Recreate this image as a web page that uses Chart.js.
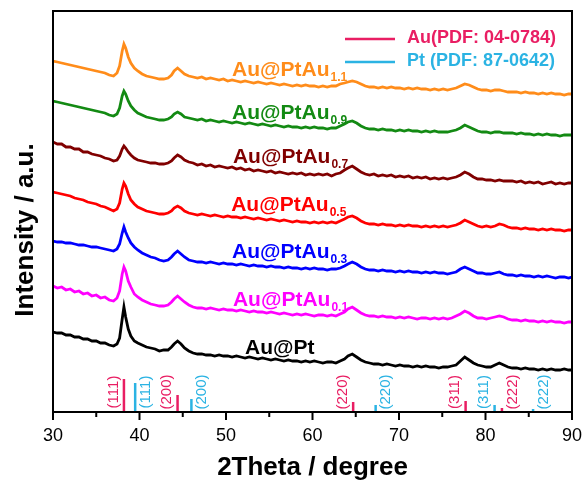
<!DOCTYPE html>
<html>
<head>
<meta charset="utf-8">
<script src="https://cdn.jsdelivr.net/npm/chart.js@4.4.0/dist/chart.umd.min.js"></script>
<style>
html, body { margin: 0; padding: 0; background: #fff; }
</style>
</head>
<body>
<canvas id="mycanvas" width="587" height="481"></canvas>
<script>
// 2Theta values (degrees), shared by all patterns
var twoTheta = [
  30,30.5,31,31.5,32,32.5,33,33.5,34,34.5,35,35.5,36,36.5,37,
  37.4,37.7,38,38.2,38.4,38.7,39,39.4,39.8,
  40.3,40.8,41.3,41.8,42.3,42.8,43.3,43.7,44,44.4,44.8,45.2,45.7,
  46.2,46.7,47.2,47.7,48.2,48.7,49.2,49.7,50.2,50.7,
  51.2,51.7,52.2,52.7,53.2,53.7,54.2,54.7,55.2,55.7,
  56.2,56.7,57.2,57.7,58.2,58.7,59.2,59.7,60.2,60.7,
  61.2,61.7,62.2,62.7,63.2,63.7,
  64.1,64.6,65.1,
  65.6,66.1,66.6,67.1,67.6,68.1,68.6,69.1,69.6,70.1,
  70.6,71.1,71.6,72.1,72.6,73.1,73.6,74.1,74.6,75.1,
  75.6,76.1,76.6,
  77.1,77.6,78.1,
  78.6,79.1,79.6,80.1,80.6,81.1,81.6,82.1,82.6,
  83.1,83.6,84.1,84.6,85.1,85.6,86.1,86.6,87.1,87.6,88.1,88.6,89.1,89.6,90
];

// stacked intensities (offset, a.u.)
var auPt = [
  80,79,79,77,77,75,75,73,73,71,71,69,69,67,66,
  68,74,93,105,95,83,76,71,69,
  67,65,64,63,61,62,62,65,68,71,68,64,61,
  59,58,58,57,57,56,57,56,56,55,56,55,54,55,54,53,54,53,52,53,52,51,52,51,51,50,51,50,51,50,49,50,50,49,51,53,
  56,58,55,
  52,50,49,48,48,47,48,47,46,47,46,46,45,46,45,46,45,45,44,45,45,46,47,
  51,55,52,
  49,47,46,45,45,47,49,47,45,
  44,44,43,44,43,43,42,43,42,43,42,42,43,42,42
];
var ptAu01 = [
  126,124,125,122,123,120,121,118,119,116,117,114,115,112,111,
  114,121,138,145,141,131,125,118,115,
  112,110,108,107,106,106,107,110,113,116,113,110,107,
  105,104,104,103,104,103,102,103,102,102,101,102,101,100,101,100,100,99,100,99,98,99,98,97,98,97,98,97,96,97,97,96,97,96,98,100,
  103,105,102,
  99,97,96,96,95,96,95,95,94,95,94,95,94,93,94,94,93,94,93,94,93,94,96,
  98,101,99,
  96,94,94,93,94,95,96,95,93,
  92,92,91,92,91,91,90,91,90,91,90,90,89,90,90
];
var ptAu03 = [
  171,170,170,169,169,168,167,167,166,165,165,164,163,162,161,
  163,168,179,185,180,174,169,165,162,
  159,157,155,154,152,151,152,155,158,161,158,155,152,
  151,150,150,149,150,149,148,149,148,148,147,148,147,146,147,146,146,145,146,145,145,144,145,144,144,143,144,143,144,143,143,142,143,143,144,146,
  148,150,148,
  145,143,142,142,141,142,141,141,140,141,140,141,140,140,139,140,139,140,139,139,138,139,140,
  143,145,143,
  141,139,139,138,138,139,140,138,137,
  137,136,137,136,136,135,136,135,136,135,134,135,135,134,135
];
var ptAu05 = [
  220,219,218,217,216,214,213,212,210,209,208,206,205,203,201,
  203,209,223,229,226,218,212,208,205,
  203,201,200,199,198,198,199,201,204,206,204,201,199,
  198,197,198,197,196,197,196,195,196,195,195,194,195,194,193,194,193,192,193,192,191,192,191,190,191,190,190,189,190,189,190,189,190,189,191,193,
  195,196,194,
  191,189,188,188,187,188,187,187,186,187,186,187,186,186,185,186,185,186,185,186,185,186,187,
  189,192,190,
  188,186,185,186,185,186,188,187,185,
  184,184,183,184,183,183,182,183,182,183,182,182,181,182,182
];
var ptAu07 = [
  270,268,268,265,265,263,263,260,260,258,257,256,254,253,251,
  252,256,263,266,264,260,257,254,252,
  251,250,249,249,248,248,249,251,254,257,255,252,250,
  249,247,248,246,247,245,246,245,244,245,243,244,242,243,241,242,241,240,241,239,240,239,238,239,238,239,237,238,237,238,237,238,236,238,239,242,
  244,246,243,
  240,238,237,238,236,237,236,237,235,236,235,236,234,235,234,235,233,234,233,234,233,234,235,
  237,240,238,
  235,233,233,232,232,231,232,231,231,
  231,230,231,229,230,229,230,228,229,230,228,229,228,229,229
];
var ptAu09 = [
  311,310,309,308,307,306,305,304,303,302,301,300,299,297,296,
  298,304,316,321,318,311,306,302,299,
  297,295,294,293,292,292,293,295,298,300,298,295,294,
  293,292,293,291,292,291,290,291,290,289,290,289,288,289,288,287,288,287,286,287,286,285,286,285,285,284,285,284,285,284,284,283,284,284,286,288,
  290,291,289,
  286,284,283,283,282,283,282,282,281,282,281,282,281,281,280,281,280,281,280,280,280,281,282,
  284,287,285,
  283,281,280,280,279,280,280,279,279,
  279,278,279,278,278,277,278,277,278,277,277,276,277,277,277
];
var ptAu11 = [
  351,350,349,348,347,346,345,344,343,342,341,340,339,337,336,
  339,346,361,368,364,355,349,344,341,
  338,336,335,334,333,333,334,337,341,344,341,338,336,
  335,334,335,333,334,333,332,333,331,332,331,330,331,330,329,330,329,328,329,328,327,328,327,326,327,326,327,326,326,325,326,325,326,326,328,329,
  330,331,330,
  328,326,325,325,324,325,324,325,324,324,323,324,323,324,323,323,322,323,322,323,322,323,324,
  326,328,327,
  325,323,322,322,321,322,322,321,320,
  320,320,319,320,319,319,318,319,318,319,318,318,317,318,318
];

var sampleNames = ['Au@PtAu', 'Au@PtAu', 'Au@PtAu', 'Au@PtAu', 'Au@PtAu', 'Au@PtAu', 'Au@Pt'];
var sampleSubs = ['1.1', '0.9', '0.7', '0.5', '0.3', '0.1', ''];
var sampleColors = ['#ff8c1a', '#138a13', '#800000', '#ff0000', '#0000ff', '#ff00ff', '#000000'];
var sampleLabelX = [50.7, 50.7, 50.8, 50.6, 50.7, 50.8, 52.2];
var sampleLabelY = [343, 300, 256, 208, 161, 113, 65];

// standard reflections
var auPos = [38.2, 44.4, 64.7, 77.7, 81.9];
var auRel = [33, 17, 10, 11, 4];
var auHkl = ['(111)', '(200)', '(220)', '(311)', '(222)'];
var auSide = [-1, -1, -1, -1, 1];
var ptPos = [39.5, 46.0, 67.3, 81.05, 85.5];
var ptRel = [29, 13, 7, 7, 3];
var ptHkl = ['(111)', '(200)', '(220)', '(311)', '(222)'];
var ptSide = [1, 1, 1, -1, 1];

var auColor = '#e91e63';
var ptColor = '#2bb3e3';
var fam = "Arial, 'Liberation Sans', sans-serif";

var series = [ptAu11, ptAu09, ptAu07, ptAu05, ptAu03, ptAu01, auPt];

var datasets = [];
for (var i = 0; i < series.length; i++) {
    var pts = [];
    for (var j = 0; j < twoTheta.length; j++) {
        pts.push({x: twoTheta[j], y: series[i][j]});
    }
    datasets.push({
        data: pts,
        borderColor: sampleColors[i],
        borderWidth: 2.8,
        pointRadius: 0,
        fill: false,
        lineTension: 0
    });
}
for (var k = 0; k < auPos.length; k++) {
    datasets.push({data: [{x: auPos[k], y: 0}, {x: auPos[k], y: auRel[k]}], borderColor: auColor, borderWidth: 2.5, pointRadius: 0});
}
for (var k = 0; k < ptPos.length; k++) {
    datasets.push({data: [{x: ptPos[k], y: 0}, {x: ptPos[k], y: ptRel[k]}], borderColor: ptColor, borderWidth: 2.5, pointRadius: 0});
}

var decor = {
    id: 'decor',
    afterDatasetsDraw: function(chart) {
        var ctx = chart.ctx, a = chart.chartArea;
        var xs = chart.scales.x, ys = chart.scales.y;
        ctx.save();

        // frame + ticks
        ctx.strokeStyle = '#000';
        ctx.lineWidth = 2;
        ctx.strokeRect(a.left, a.top, a.right - a.left, a.bottom - a.top);
        for (var t = 30; t <= 90; t += 5) {
            var tx = xs.getPixelForValue(t);
            ctx.beginPath();
            ctx.moveTo(tx, a.bottom);
            ctx.lineTo(tx, a.bottom + (t % 10 === 0 ? 8 : 5));
            ctx.stroke();
        }

        // sample labels
        ctx.textAlign = 'left';
        ctx.textBaseline = 'alphabetic';
        for (var i = 0; i < sampleNames.length; i++) {
            var lx = xs.getPixelForValue(sampleLabelX[i]);
            var ly = ys.getPixelForValue(sampleLabelY[i]) + 7;
            ctx.fillStyle = sampleColors[i];
            ctx.font = 'bold 21px ' + fam;
            ctx.fillText(sampleNames[i], lx, ly);
            if (sampleSubs[i]) {
                var w = ctx.measureText(sampleNames[i]).width;
                ctx.font = 'bold 12px ' + fam;
                ctx.fillText(sampleSubs[i], lx + w + 1, ly + 5);
            }
        }

        // hkl labels
        ctx.font = '15px ' + fam;
        ctx.textAlign = 'center';
        ctx.textBaseline = 'middle';
        var hy = ys.getPixelForValue(20);
        function hkl(pos, txt, side, col) {
            ctx.save();
            ctx.fillStyle = col;
            ctx.translate(xs.getPixelForValue(pos) + side * 10.5, hy);
            ctx.rotate(-Math.PI / 2);
            ctx.fillText(txt, 0, 0);
            ctx.restore();
        }
        for (var k = 0; k < auPos.length; k++) hkl(auPos[k], auHkl[k], auSide[k], auColor);
        for (var k = 0; k < ptPos.length; k++) hkl(ptPos[k], ptHkl[k], ptSide[k], ptColor);

        // legend
        ctx.lineWidth = 2.5;
        ctx.font = 'bold 18px ' + fam;
        ctx.textAlign = 'left';
        var leg = [['Au(PDF: 04-0784)', auColor, 28], ['Pt (PDF: 87-0642)', ptColor, 51]];
        for (var m = 0; m < leg.length; m++) {
            var yy = a.top + leg[m][2];
            ctx.strokeStyle = leg[m][1];
            ctx.beginPath();
            ctx.moveTo(a.right - 227, yy);
            ctx.lineTo(a.right - 177, yy);
            ctx.stroke();
            ctx.fillStyle = leg[m][1];
            ctx.fillText(leg[m][0], a.right - 165, yy - 1);
        }

        // axis titles
        ctx.fillStyle = '#000';
        ctx.font = 'bold 26px ' + fam;
        ctx.textAlign = 'center';
        ctx.textBaseline = 'alphabetic';
        ctx.fillText('2Theta / degree', (a.left + a.right) / 2, 475);
        ctx.save();
        ctx.translate(33, 230);
        ctx.rotate(-Math.PI / 2);
        ctx.fillText('Intensity / a.u.', 0, 0);
        ctx.restore();

        ctx.restore();
    }
};

var ctx = document.getElementById('mycanvas');
var LineGraph = new Chart(ctx, {
    type: 'line',
    data: { datasets: datasets },
    plugins: [decor],
    options: {
        responsive: false,
        animation: false,
        layout: { padding: { top: 11, right: 15, left: 0, bottom: 0 } },
        plugins: { legend: { display: false }, tooltip: { enabled: false } },
        scales: {
            x: {
                type: 'linear', min: 30, max: 90,
                afterFit: function(s) { s.height = 69; s.paddingLeft = 0; s.paddingRight = 0; },
                ticks: { stepSize: 10, padding: 13, color: '#000', font: { family: fam, size: 18 } },
                grid: { display: false, drawTicks: false },
                border: { display: false }
            },
            y: {
                min: 0, max: 401,
                afterFit: function(s) { s.width = 53; },
                ticks: { display: false },
                grid: { display: false, drawTicks: false },
                border: { display: false }
            }
        }
    }
});
</script>
</body>
</html>
